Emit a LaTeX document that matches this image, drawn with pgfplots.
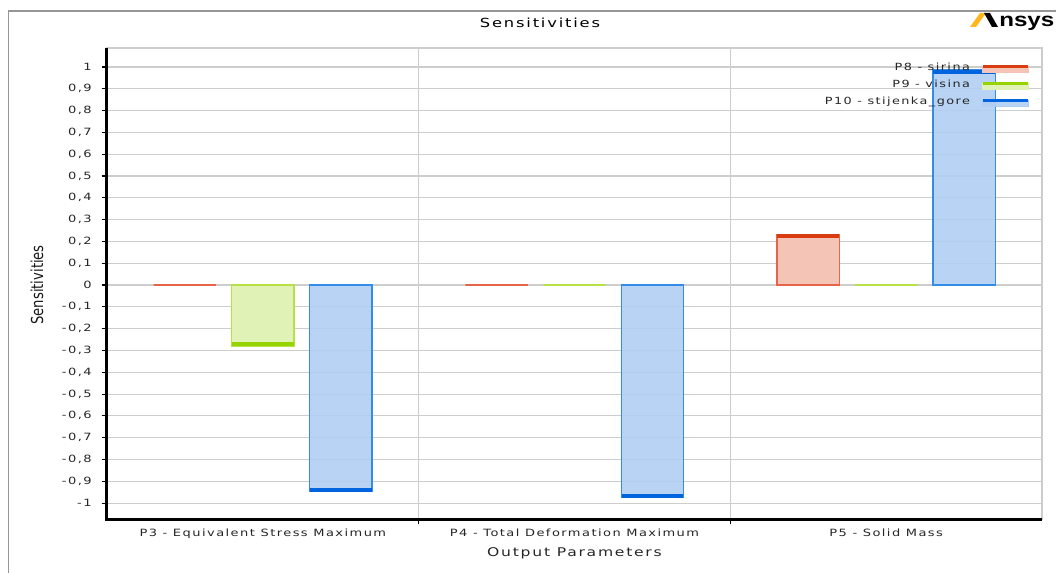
\documentclass[border=0pt]{standalone}
\usepackage{pgfplots}
\pgfplotsset{compat=1.18}
\usepackage{graphicx}
\usepackage{fontspec}
\setmainfont{DejaVu Sans}
\newfontfamily\wide[FakeStretch=1.3, LetterSpace=14.5]{DejaVu Sans}
\newfontfamily\logofont[FakeStretch=1.25]{Liberation Sans}
\definecolor{redband}{RGB}{218,60,18}
\definecolor{redline}{RGB}{232,100,72}
\definecolor{redfill}{RGB}{244,196,182}
\definecolor{greenband}{RGB}{150,212,0}
\definecolor{greenline}{RGB}{182,226,70}
\definecolor{greenfill}{RGB}{224,242,182}
\definecolor{blueband}{RGB}{0,100,222}
\definecolor{blueline}{RGB}{50,140,232}
\definecolor{bluefill}{RGB}{176,206,242}
\definecolor{gridgray}{RGB}{205,205,205}
\definecolor{framegray}{RGB}{150,150,150}
\definecolor{ansysyellow}{RGB}{255,183,27}
\begin{document}
\begin{tikzpicture}
\useasboundingbox (-80.25pt,-39.75pt) rectangle (711.75pt,389.25pt);
\draw[framegray, line width=0.8pt] (-73.9pt,-45pt) -- (-73.9pt,381pt) -- (715pt,381pt);
\node at (324.75pt,372pt) {\wide\fontsize{9.4}{11}\selectfont Sensitivities};
% logo
\fill[ansysyellow] (647.25pt,369pt) -- (651.75pt,369pt) -- (659.25pt,379.5pt) -- (654.75pt,379.5pt) -- cycle;
\fill[black] (657.75pt,379.5pt) -- (662.25pt,379.5pt) -- (668.25pt,369pt) -- (663.75pt,369pt) -- cycle;
\node[anchor=base west, inner sep=0pt] at (669pt,369pt) {\logofont\bfseries\fontsize{14.5}{16}\selectfont nsys};
\begin{axis}[
  scale only axis, width=701.25pt, height=353.25pt,
  xmin=-0.5, xmax=2.5, ymin=-1.073, ymax=1.087,
  axis line style={draw=gridgray, line width=0.8pt},
  xtick={0,1,2},
  xticklabels={P3 - Equivalent Stress Maximum, P4 - Total Deformation Maximum, P5 - Solid Mass},
  minor xtick={0.5,1.5},
  xminorgrids=true,
  major x tick style={draw=none},
  minor x tick style={black, line width=0.8pt},
  ytick={-1,-0.9,-0.8,-0.7,-0.6,-0.5,-0.4,-0.3,-0.2,-0.1,0,0.1,0.2,0.3,0.4,0.5,0.6,0.7,0.8,0.9,1},
  ymajorgrids=true,
  grid style={gridgray, line width=0.8pt},
  minor grid style={gridgray, line width=0.8pt},
  xtick pos=bottom, ytick pos=left,
  tick align=outside,
  major tick length=4pt, minor tick length=4pt,
  y tick style={black, line width=0.8pt},
  /pgf/number format/.cd, use comma, fixed, precision=1, assume math mode=true,
  /pgfplots/.cd,
  yticklabel style={font=\wide\fontsize{7.5}{8}\selectfont, text=black!85, xshift=-4pt},
  xticklabel style={font=\wide\fontsize{7.5}{9}\selectfont, text=black!85, yshift=0pt},
  xlabel={Output Parameters},
  xlabel style={at={(axis description cs:0.5,-0.073)}, anchor=center, font=\wide\fontsize{9}{11}\selectfont, text=black!85},
  ylabel={\scalebox{1}[1.25]{Sensitivities}},
  ylabel style={at={(axis description cs:-0.0749,0.497)}, anchor=center, font=\fontsize{9.9}{12}\selectfont, text=black!90},
  legend style={at={(axis description cs:0.9915,0.979)}, anchor=north east, draw=none, fill=none,
    font=\wide\fontsize{7.4}{9}\selectfont, text=black!85, row sep=1.5pt, column sep=6.5pt},
  legend cell align=right,
  legend plot pos=right,
  after end axis/.code={\draw[black, line width=2.25pt] (rel axis cs:0,1) -- (rel axis cs:0,0) -- (rel axis cs:1,0);},
]
\addplot[ybar, bar width=0.2, bar shift=0pt, draw=redline, fill=redfill, line width=0.9pt,
  legend image code/.code={\fill[redfill] (0pt,-3.4pt) rectangle (34pt,1.2pt); \draw[redband, line width=2.4pt] (0pt,1.2pt) -- (34pt,1.2pt);}]
  coordinates {(-0.25,0) (0.75,0) (1.75,0.233)};
\addlegendentry{P8 - sirina}
\addplot[ybar, bar width=0.2, bar shift=0pt, draw=greenline, fill=greenfill, line width=0.9pt,
  legend image code/.code={\fill[greenfill] (0pt,-3.4pt) rectangle (34pt,1.2pt); \draw[greenband, line width=2.4pt] (0pt,1.2pt) -- (34pt,1.2pt);}]
  coordinates {(0,-0.28) (1,0) (2,0)};
\addlegendentry{P9 - visina}
\addplot[ybar, bar width=0.2, bar shift=0pt, draw=blueline, fill=bluefill, fill opacity=0.9, line width=0.9pt,
  legend image code/.code={\fill[bluefill] (0pt,-3.4pt) rectangle (34pt,1.2pt); \draw[blueband, line width=2.4pt] (0pt,1.2pt) -- (34pt,1.2pt);}]
  coordinates {(0.25,-0.947) (1.25,-0.975) (2.25,0.986)};
\addlegendentry{P10 - stijenka\_gore}
% end bands
\addplot[only marks, mark=-, mark size=23.1pt, color=redband, line width=3pt, mark options={yshift=-1.5pt}, forget plot]
  coordinates {(1.75,0.233)};
\addplot[only marks, mark=-, mark size=23.1pt, color=greenband, line width=3pt, mark options={yshift=1.5pt}, forget plot]
  coordinates {(0,-0.28)};
\addplot[only marks, mark=-, mark size=23.1pt, color=blueband, line width=3pt, mark options={yshift=1.5pt}, forget plot]
  coordinates {(0.25,-0.947) (1.25,-0.975)};
\addplot[only marks, mark=-, mark size=23.1pt, color=blueband, line width=3pt, mark options={yshift=-1.5pt}, forget plot]
  coordinates {(2.25,0.986)};
\end{axis}
\end{tikzpicture}
\end{document}
